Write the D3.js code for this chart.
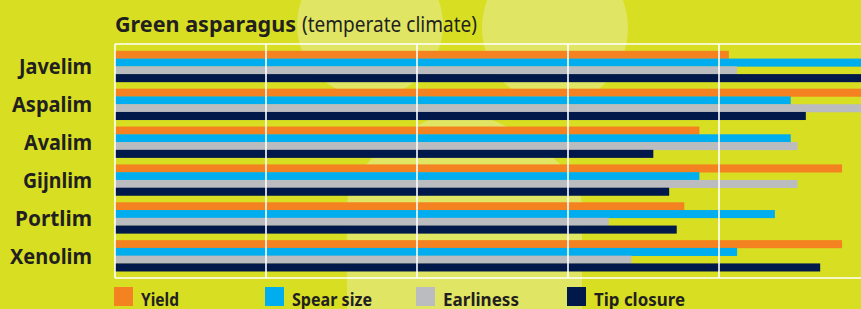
<!DOCTYPE html>
<html>
<head>
<meta charset="utf-8">
<script src="https://cdn.jsdelivr.net/npm/d3@7"></script>
<style>
  body { margin: 0; background: #d8df22; }
  svg { display: block; }
</style>
</head>
<body>
<svg width="861" height="309"></svg>
<script>
// data (scale 0-10, grid every 2)
const varieties = ["Javelim", "Aspalim", "Avalim", "Gijnlim", "Portlim", "Xenolim"];
const traits = ["Yield", "Spear size", "Earliness", "Tip closure"];
const yieldVals = [8.13, 10, 7.74, 9.63, 7.54, 9.63];
const spearSize = [10, 8.95, 8.95, 7.74, 8.74, 8.24];
const earliness = [8.24, 10, 9.04, 9.04, 6.54, 6.84];
const tipClosure = [10, 9.15, 7.13, 7.34, 7.44, 9.34];
const gridTicks = [0, 2, 4, 6, 8, 10];
const labelWidths = [73, 80, 68, 69, 77, 82];
const legendWidths = [38, 80, 76, 91];

const series = [yieldVals, spearSize, earliness, tipClosure];
const colors = ["#f48221", "#00adee", "#bbbcbf", "#00184a"];
const ink = "#231f20";

const svg = d3.select("svg");
const mLeft = 115, mRight = 870, mTop = 44, mBottom = 278;

// decorative light shapes in the background
const deco = svg.append("g").attr("fill", "#e0e564");
deco.append("ellipse").attr("cx", 370).attr("cy", 25).attr("rx", 73).attr("ry", 72);
deco.append("ellipse").attr("cx", 555).attr("cy", 28).attr("rx", 73).attr("ry", 76);
deco.append("path")
    .attr("d", "M347,309 L347,205 C347,165 415,118 460,110 C505,118 582,165 582,205 L582,309 Z");

const x = d3.scaleLinear().domain([0, 10]).range([mLeft, mRight]);
const y = d3.scaleBand().domain(varieties).range([mTop, mBottom]).paddingInner(0.18).paddingOuter(0.18);
const yInner = d3.scaleBand().domain(traits).range([0, y.bandwidth()]);

const rows = svg.append("g").selectAll("g")
    .data(varieties)
    .enter().append("g")
    .attr("transform", d => "translate(0," + y(d) + ")");

rows.selectAll("rect")
    .data((d, i) => traits.map((t, k) => ({trait: t, value: series[k][i], k: k})))
    .enter().append("rect")
    .attr("x", x(0))
    .attr("y", d => yInner(d.trait))
    .attr("width", d => x(d.value) - x(0))
    .attr("height", yInner.bandwidth() + 0.3)
    .attr("fill", d => colors[d.k]);

// white frame and grid on top of the bars
const grid = svg.append("g").attr("stroke", "#ffffff").attr("stroke-width", 1.6);
grid.selectAll("line")
    .data(gridTicks)
    .enter().append("line")
    .attr("x1", d => x(d)).attr("x2", d => x(d))
    .attr("y1", mTop).attr("y2", mBottom);
grid.append("line").attr("x1", mLeft).attr("x2", mRight + 5).attr("y1", mTop).attr("y2", mTop);
grid.append("line").attr("x1", mLeft).attr("x2", mRight + 5).attr("y1", mBottom).attr("y2", mBottom);

// category labels
svg.append("g").selectAll("text")
    .data(varieties)
    .enter().append("text")
    .attr("x", 92)
    .attr("y", d => y(d) + y.bandwidth() / 2 + 8)
    .attr("text-anchor", "end")
    .attr("font-family", "Noto Sans")
    .attr("font-weight", "bold")
    .attr("font-size", "22px")
    .attr("fill", ink)
    .attr("textLength", (d, i) => labelWidths[i])
    .attr("lengthAdjust", "spacingAndGlyphs")
    .text(d => d);

// title
svg.append("text")
    .attr("x", mLeft).attr("y", 32)
    .attr("font-family", "Noto Sans").attr("font-weight", "bold").attr("font-size", "21px")
    .attr("fill", ink)
    .attr("textLength", 181).attr("lengthAdjust", "spacingAndGlyphs")
    .text("Green asparagus");
svg.append("text")
    .attr("x", 302).attr("y", 32)
    .attr("font-family", "Noto Sans").attr("font-size", "21px")
    .attr("fill", ink)
    .attr("textLength", 175).attr("lengthAdjust", "spacingAndGlyphs")
    .text("(temperate climate)");

// legend
const legend = svg.append("g").selectAll("g")
    .data(traits)
    .enter().append("g")
    .attr("transform", (d, i) => "translate(" + (x(gridTicks[i]) - 1) + ",287)");
legend.append("rect")
    .attr("width", 19).attr("height", 19)
    .attr("fill", (d, i) => colors[i]);
legend.append("text")
    .attr("x", 27).attr("y", 18.7)
    .attr("font-family", "Noto Sans").attr("font-weight", "bold").attr("font-size", "17px")
    .attr("fill", ink)
    .attr("textLength", (d, i) => legendWidths[i])
    .attr("lengthAdjust", "spacingAndGlyphs")
    .text(d => d);
</script>
</body>
</html>
